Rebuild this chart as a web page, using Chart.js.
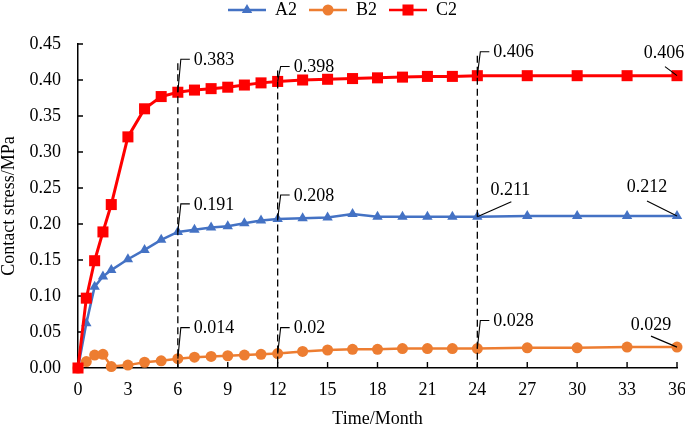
<!DOCTYPE html>
<html>
<head>
<meta charset="utf-8">
<script src="https://cdn.jsdelivr.net/npm/chart.js@4/dist/chart.umd.min.js"></script>
<style>
html,body{margin:0;padding:0;background:#fff;}
#wrap{width:685px;height:426px;}
</style>
</head>
<body>
<div id="wrap"><canvas id="c" width="685" height="426"></canvas></div>
<script>
// ---- data ----
const months = [0,0.5,1,1.5,2,3,4,5,6,7,8,9,10,11,12,13.5,15,16.5,18,19.5,21,22.5,24,27,30,33,36];
const seriesNames = ['A2','B2','C2'];
const a2 = [0,0.062,0.113,0.127,0.136,0.151,0.164,0.178,0.189,0.192,0.195,0.197,0.201,0.205,0.207,0.208,0.209,0.214,0.210,0.210,0.210,0.210,0.210,0.211,0.211,0.211,0.211];
const b2 = [0,0.009,0.018,0.019,0.002,0.004,0.008,0.010,0.013,0.015,0.016,0.017,0.018,0.019,0.020,0.023,0.025,0.026,0.026,0.027,0.027,0.027,0.027,0.028,0.028,0.029,0.029];
const c2 = [0,0.097,0.149,0.189,0.227,0.321,0.360,0.377,0.383,0.386,0.388,0.390,0.393,0.396,0.398,0.400,0.401,0.402,0.403,0.404,0.405,0.405,0.406,0.406,0.406,0.406,0.406];
const markedMonths = [6,12,24];
const labelTexts = ['0.383','0.191','0.014','0.398','0.208','0.02','0.406','0.211','0.028','0.406','0.212','0.029'];
const labelSeries = [2,1,0,2,1,0,2,1,0,2,1,0];   // 0=B2,1=A2,2=C2
const labelMonths = [6,6,6,12,12,12,24,24,24,36,36,36];

// ---- styles (separate from data) ----
const colors = {A2:'#4472C4', B2:'#ED7D31', C2:'#FF0000'};
const FONT = "'Liberation Serif','Times New Roman',serif";
const FS = 18;
const labelStyle = [
  {k:'step',dy:33},{k:'step',dy:28},{k:'step',dy:31},
  {k:'step',dy:15},{k:'step',dy:24},{k:'step',dy:26},
  {k:'step',dy:24},{k:'diag',dx:34,dy:-15,tx:33,ty:-27},{k:'step',dy:28},
  {k:'diag',dx:-12,dy:-9,tx:-13,ty:-22},{k:'diag',dx:-30,dy:-15,tx:-30,ty:-29},{k:'diag',dx:-26,dy:-11,tx:-26,ty:-22}
];

function pts(vals){ return months.map((m,i)=>({x:m,y:vals[i]})); }

function legendIcon(color, style, r){
  const cv = document.createElement('canvas');
  cv.width = 38; cv.height = 16;
  const g = cv.getContext('2d');
  g.strokeStyle = color; g.lineWidth = 2.5;
  g.beginPath(); g.moveTo(0,8); g.lineTo(38,8); g.stroke();
  g.fillStyle = color;
  g.beginPath();
  if(style==='triangle'){ g.moveTo(19,8-r); g.lineTo(19+r*0.866,8+r*0.5); g.lineTo(19-r*0.866,8+r*0.5); g.closePath(); g.fill(); }
  else if(style==='circle'){ g.arc(19,8,r,0,Math.PI*2); g.fill(); }
  else { const s=r/Math.SQRT2; g.fillRect(19-s,8-s,2*s,2*s); }
  return cv;
}

const pStyles = ['triangle','circle','rect'];
const pRadius = [6,5.5,7.8];
const dataSets = [a2,b2,c2];
const icons = seriesNames.map((n,i)=>legendIcon(colors[n],pStyles[i],pRadius[i]));

Chart.defaults.font.family = FONT;
Chart.defaults.font.size = FS;
Chart.defaults.color = '#000';

const tickPlugin = {
  id:'insideTicks',
  afterInit(chart){
    const lg = chart.legend;
    if(lg){ const f = lg.fit.bind(lg); lg.fit = function(){ f(); this.height = 55; }; }
  },
  beforeDatasetsDraw(chart){
    const {ctx, chartArea:a, scales:{x,y}} = chart;
    ctx.save(); ctx.strokeStyle='#000'; ctx.lineWidth=1.4;
    ctx.beginPath();
    x.ticks.forEach(t=>{ const px=x.getPixelForValue(t.value); ctx.moveTo(px,a.bottom); ctx.lineTo(px,a.bottom-6); });
    y.ticks.forEach(t=>{ const py=y.getPixelForValue(t.value); ctx.moveTo(a.left,py); ctx.lineTo(a.left+5,py); });
    ctx.stroke(); ctx.restore();
  },
  afterDatasetsDraw(chart){
    const {ctx, chartArea:a, scales:{x,y}} = chart;
    const seriesForLabels = [b2,a2,c2];
    ctx.save();
    ctx.font = FS+'px '+FONT; ctx.fillStyle='#000'; ctx.strokeStyle='#000';
    markedMonths.forEach(m=>{
      let top = a.bottom;
      labelMonths.forEach((lm,i)=>{
        if(lm!==m || labelStyle[i].k!=='step') return;
        const vals = seriesForLabels[labelSeries[i]];
        const py = y.getPixelForValue(vals[months.indexOf(lm)]);
        top = Math.min(top, py - labelStyle[i].dy + 4);
      });
      const px = x.getPixelForValue(m);
      ctx.beginPath(); ctx.setLineDash([7,4]); ctx.lineWidth=1.3;
      ctx.moveTo(px, top); ctx.lineTo(px, a.bottom); ctx.stroke();
    });
    ctx.setLineDash([]); ctx.lineWidth=1.1;
    labelMonths.forEach((lm,i)=>{
      const vals = seriesForLabels[labelSeries[i]];
      const px = x.getPixelForValue(lm);
      const py = y.getPixelForValue(vals[months.indexOf(lm)]);
      const st = labelStyle[i];
      ctx.beginPath();
      if(st.k==='step'){
        const ly = py - st.dy;
        ctx.moveTo(px,py); ctx.lineTo(px+3,ly); ctx.lineTo(px+12,ly); ctx.stroke();
        ctx.textAlign='left'; ctx.textBaseline='middle';
        ctx.fillText(labelTexts[i], px+16, ly+1);
      } else {
        ctx.moveTo(px,py); ctx.lineTo(px+st.dx, py+st.dy); ctx.stroke();
        ctx.textAlign='center'; ctx.textBaseline='middle';
        ctx.fillText(labelTexts[i], px+st.tx, py+st.ty);
      }
    });
    ctx.restore();
  }
};

new Chart(document.getElementById('c'), {
  type:'line',
  data:{
    datasets: seriesNames.map((n,i)=>({
      label:n,
      data:pts(dataSets[i]),
      borderColor:colors[n],
      backgroundColor:colors[n],
      borderWidth: i===2 ? 3 : 2.5,
      pointStyle:pStyles[i],
      pointRadius:pRadius[i],
      pointHoverRadius:pRadius[i],
      pointBorderWidth:0,
      tension:0,
      clip:false,
      order: i===2 ? 0 : (i===0 ? 1 : 2)
    }))
  },
  options:{
    responsive:false,
    animation:false,
    layout:{padding:{left:0,right:0,top:-11,bottom:0}},
    plugins:{
      tooltip:{enabled:false},
      legend:{
        position:'top',
        labels:{
          usePointStyle:true,
          pointStyleWidth:38,
          padding:12,
          font:{size:FS,family:FONT},
          sort:(p,q)=>p.datasetIndex-q.datasetIndex,
          generateLabels(chart){
            const items = Chart.defaults.plugins.legend.labels.generateLabels(chart);
            items.forEach(it=>{ it.pointStyle = icons[it.datasetIndex]; });
            return items;
          }
        }
      }
    },
    scales:{
      x:{
        type:'linear', min:0, max:36,
        grid:{display:false, drawTicks:false},
        border:{display:true,color:'#000',width:1.5},
        ticks:{stepSize:3, padding:11, font:{size:FS}},
        title:{display:true,text:'Time/Month',font:{size:FS},padding:{top:0,bottom:-4}},
        afterFit(s){ s.height = 58; s.paddingLeft = 0; s.paddingRight = 8; }
      },
      y:{
        min:0, max:0.45,
        grid:{display:false, drawTicks:false},
        border:{display:true,color:'#000',width:1.5},
        ticks:{stepSize:0.05, padding:17, font:{size:FS}, callback:v=>v.toFixed(2)},
        title:{display:true,text:'Contact stress/MPa',font:{size:FS},padding:{top:-2,bottom:0}},
        afterFit(s){ s.width = 78; }
      }
    }
  },
  plugins:[tickPlugin]
});
</script>
</body>
</html>
